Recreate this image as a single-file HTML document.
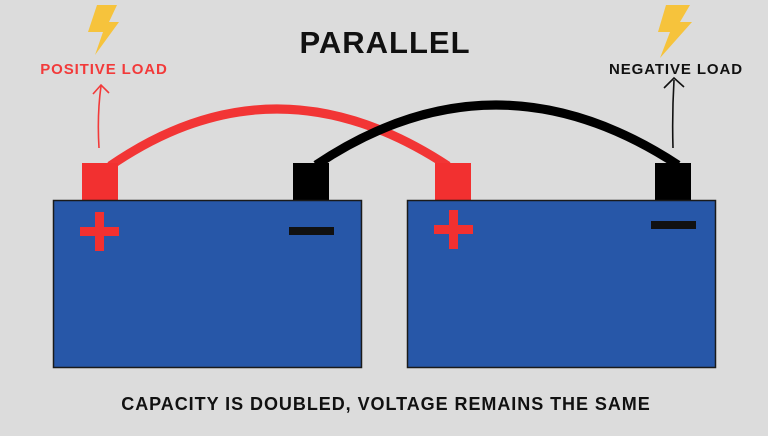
<!DOCTYPE html>
<html><head><style>
body{margin:0;width:768px;height:431px;background:#dcdcdc;overflow:hidden;font-family:"Liberation Sans",sans-serif}
</style></head><body>
<svg width="768" height="431" viewBox="0 0 768 431" xmlns="http://www.w3.org/2000/svg">
<rect width="768" height="431" fill="#dcdcdc"/>
<text x="385" y="53" text-anchor="middle" font-family="Liberation Sans" font-weight="bold" font-size="31" fill="#111" letter-spacing="1">PARALLEL</text>
<text x="104" y="74" text-anchor="middle" font-weight="bold" font-size="15" fill="#f23a3a" letter-spacing="0.9">POSITIVE LOAD</text>
<text x="676" y="74" text-anchor="middle" font-weight="bold" font-size="15" fill="#111" letter-spacing="0.9">NEGATIVE LOAD</text>
<polygon points="97,5 117,5 109,22 119,22 95,55 103,32 88,32" fill="#f6c33c"/>
<polygon points="666,5 690,5 680,22 692,22 660,58 670,32 658,32" fill="#f6c33c"/>
<path d="M99,148 Q97,115 101,86" stroke="#f23a3a" stroke-width="1.6" fill="none"/>
<path d="M93,94 L101,85 L109,93" stroke="#f23a3a" stroke-width="1.6" fill="none"/>
<path d="M673,148 Q672,115 674,80" stroke="#111" stroke-width="1.6" fill="none"/>
<path d="M664,88 L674,78 L684,87" stroke="#111" stroke-width="1.6" fill="none"/>
<path d="M110,166 Q275,52 448,166" stroke="#f23535" stroke-width="9" fill="none"/>
<path d="M316,165 Q495,45 678,165" stroke="#000" stroke-width="9" fill="none"/>
<rect x="82" y="163" width="36" height="38" fill="#f23030"/>
<rect x="293" y="163" width="36" height="38" fill="#000"/>
<rect x="435" y="163" width="36" height="38" fill="#f23030"/>
<rect x="655" y="163" width="36" height="38" fill="#000"/>
<rect x="53.5" y="200.5" width="308" height="167" fill="#2757a8" stroke="#1a1a1a" stroke-width="1.5"/>
<rect x="407.5" y="200.5" width="308" height="167" fill="#2757a8" stroke="#1a1a1a" stroke-width="1.5"/>
<rect x="80" y="227" width="39" height="9" fill="#f23030"/>
<rect x="95" y="212" width="9" height="39" fill="#f23030"/>
<rect x="289" y="227" width="45" height="8" fill="#111"/>
<rect x="434" y="225" width="39" height="9" fill="#f23030"/>
<rect x="449" y="210" width="9" height="39" fill="#f23030"/>
<rect x="651" y="221" width="45" height="8" fill="#111"/>
<text x="386" y="410" text-anchor="middle" font-weight="bold" font-size="18" fill="#111" letter-spacing="0.95">CAPACITY IS DOUBLED, VOLTAGE REMAINS THE SAME</text>
</svg>
</body></html>
